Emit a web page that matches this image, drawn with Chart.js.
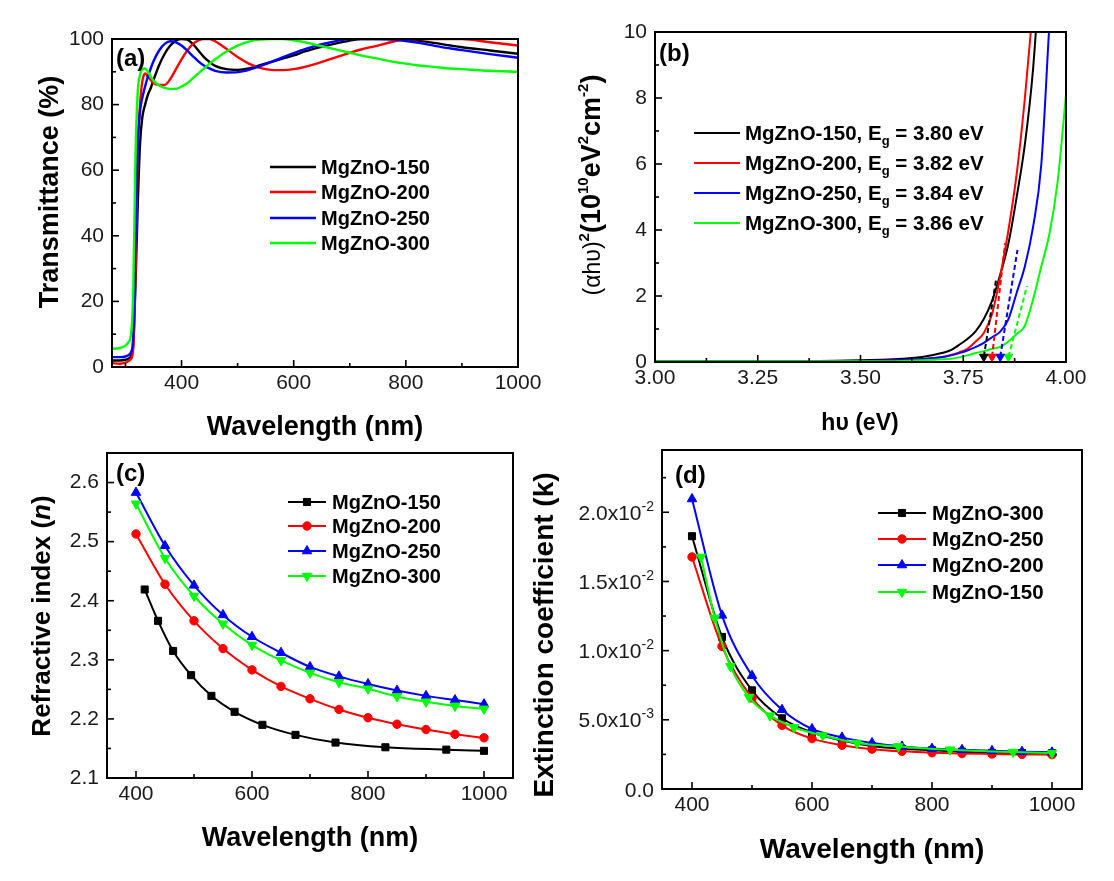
<!DOCTYPE html>
<html><head>
<meta charset="UTF-8">
<title>MgZnO optical properties</title>
<script src="https://cdn.jsdelivr.net/npm/chart.js"></script>
<style>
  body { margin: 0; background: #fff; }
  #fig { position: relative; width: 1114px; height: 881px; }
  #fig canvas { position: absolute; left: 0; top: 0; }
</style>
</head>
<body>
<div id="fig">
  <canvas id="chartA" width="1114" height="881"></canvas>
  <canvas id="chartB" width="1114" height="881"></canvas>
  <canvas id="chartC" width="1114" height="881"></canvas>
  <canvas id="chartD" width="1114" height="881"></canvas>
</div>
<script>
// ---------- (a) transmittance ----------
const waveA = [276, 290, 300, 305, 310, 314, 318, 322, 326, 330, 335, 340, 345, 350, 360, 370, 380, 390, 400, 410,
  420, 430, 440, 450, 460, 480, 500, 520, 540, 560, 580, 600, 620, 650, 680, 700, 720, 750, 780, 800,
  820, 850, 880, 900, 950, 1000];
const trans150 = [2, 2, 2.2, 2.5, 3.5, 7, 26, 50, 68, 76, 80, 83, 85, 87.5, 92, 95.5, 98, 99.5, 100, 99.8,
  98.5, 96.5, 94.5, 93, 91.8, 90.8, 90.6, 91, 92, 93, 94, 95, 96.2, 97.6, 98.8, 99.5, 100, 100, 100, 99.8,
  99.5, 98.8, 98, 97.5, 96.5, 95.5];
const trans200 = [1.2, 1, 1.3, 1.8, 2.5, 6, 30, 66, 80, 87, 89.5, 88.5, 87.5, 86.6, 86, 86, 87.8, 90.8, 93.8, 96.4,
  98.4, 99.6, 100, 100, 99.3, 97, 94.5, 92.5, 91.2, 90.6, 90.5, 90.8, 91.5, 93, 94.7, 95.8, 96.8, 98, 99.3, 99.8,
  100, 100, 100, 100, 99, 98];
const trans250 = [3, 3, 3.2, 3.6, 4.5, 10, 40, 68, 78, 82, 85.5, 88.5, 91, 93.2, 96.5, 98.5, 99.3, 99, 98, 96.5,
  94.8, 93.2, 91.9, 91, 90.3, 89.8, 89.9, 90.6, 91.7, 93, 94.4, 95.7, 96.9, 98.4, 99.5, 100, 100, 100, 99.8, 99.4,
  98.9, 98, 97.1, 96.6, 95.4, 94.3];
const trans300 = [5.5, 5.8, 6.5, 7.5, 10, 24, 65, 84, 89, 90.8, 91, 90, 88.5, 87.3, 85.8, 85.1, 84.8, 84.8, 85.5, 86.5,
  88, 89.5, 91, 92.5, 93.8, 96.2, 98, 99.2, 99.8, 100, 100, 99.6, 99, 97.8, 96.6, 95.8, 95, 94, 93, 92.5,
  92, 91.5, 91, 90.8, 90.3, 90];
const ticksAx = [400, 600, 800, 1000];
const ticksAy = [0, 20, 40, 60, 80, 100];

// ---------- (b) Tauc plot ----------
const energyB = [3.00, 3.10, 3.20, 3.30, 3.40, 3.50, 3.55, 3.60, 3.65, 3.70, 3.72, 3.74, 3.76, 3.78, 3.80,
  3.82, 3.84, 3.86, 3.88, 3.90, 3.92, 3.94, 3.96, 3.98, 4.00];
const tauc150 = [0.02, 0.02, 0.02, 0.03, 0.03, 0.05, 0.07, 0.1, 0.15, 0.28, 0.36, 0.52, 0.7, 0.93, 1.3,
  1.85, 2.65, 3.6, 5.0, 6.6, 8.9, 12.5, 16, 20, 25];
const tauc200 = [0.02, 0.02, 0.02, 0.02, 0.03, 0.03, 0.04, 0.06, 0.09, 0.15, 0.21, 0.29, 0.4, 0.62, 0.88,
  1.45, 2.6, 4.0, 5.7, 8.0, 10.8, 14, 18, 22, 27];
const tauc250 = [0.02, 0.02, 0.02, 0.02, 0.02, 0.03, 0.04, 0.06, 0.09, 0.15, 0.2, 0.27, 0.35, 0.45, 0.58,
  0.75, 0.92, 1.3, 2.1, 2.9, 4.1, 6.0, 10.3, 14, 18];
const tauc300 = [0.02, 0.02, 0.02, 0.02, 0.02, 0.02, 0.02, 0.03, 0.05, 0.08, 0.1, 0.14, 0.2, 0.27, 0.33,
  0.4, 0.46, 0.62, 0.85, 1.1, 1.9, 2.9, 3.9, 5.5, 8.1];
const bandGaps = [3.80, 3.82, 3.84, 3.86];
const fitTopX = [3.83, 3.852, 3.882, 3.905];
const fitTopY = [2.5, 3.6, 3.4, 2.3];
const ticksBx = [3.00, 3.25, 3.50, 3.75, 4.00];
const ticksBy = [0, 2, 4, 6, 8, 10];

// ---------- (c) refractive index, (d) extinction coefficient ----------
const wave150 = [415, 438, 464, 495, 530, 570, 618, 675, 744, 830, 935, 1000];
const waveStd = [400, 450, 500, 550, 600, 650, 700, 750, 800, 850, 900, 950, 1000];
const n150 = [2.419, 2.366, 2.315, 2.274, 2.239, 2.212, 2.190, 2.173, 2.160, 2.152, 2.148, 2.146];
const n200 = [2.513, 2.428, 2.366, 2.319, 2.283, 2.255, 2.234, 2.216, 2.202, 2.191, 2.182, 2.174, 2.168];
const n250 = [2.583, 2.493, 2.426, 2.376, 2.339, 2.312, 2.288, 2.272, 2.259, 2.248, 2.239, 2.232, 2.225];
const n300 = [2.564, 2.472, 2.408, 2.361, 2.325, 2.299, 2.278, 2.262, 2.251, 2.238, 2.229, 2.222, 2.217];
const k300 = [0.01827, 0.01099, 0.00713, 0.00511, 0.0041, 0.0035, 0.0031, 0.0029, 0.0028, 0.0027, 0.0026, 0.0026, 0.0026];
const k250 = [0.01677, 0.01031, 0.00658, 0.0046, 0.00364, 0.00316, 0.00288, 0.00272, 0.00262, 0.00256, 0.00253, 0.0025, 0.00248];
const k200 = [0.02096, 0.01255, 0.00819, 0.00573, 0.00434, 0.00373, 0.00333, 0.00308, 0.00292, 0.00283, 0.00276, 0.0027, 0.00265];
const k150 = [0.01677, 0.01236, 0.00887, 0.00663, 0.0053, 0.00446, 0.00386, 0.00333, 0.00308, 0.00284, 0.00267, 0.0026];
const ticksCx = [400, 600, 800, 1000];
const ticksCy = [2.1, 2.2, 2.3, 2.4, 2.5, 2.6];
const ticksDy = [0, 0.005, 0.01, 0.015, 0.02];
const ticksDyMant = ['0.0', '5.0', '1.0', '1.5', '2.0'];
const ticksDyExp = ['', '-3', '-2', '-2', '-2'];

const seriesNames = ['MgZnO-150', 'MgZnO-200', 'MgZnO-250', 'MgZnO-300'];
const colors = ['#000000', '#ff0000', '#0000ff', '#00ff00'];

// ---------- helpers ----------
const W = 1114, H = 881;
const YW = 90, XH = 40;   // room kept for tick labels
const FF = "'Liberation Sans', Arial, Helvetica, sans-serif";
const B = n => `bold ${n}px ${FF}`;
const BI = n => `italic bold ${n}px ${FF}`;
const R = n => `${n}px ${FF}`;

const pts = (xs, ys) => xs.map((x, i) => ({ x, y: ys[i] }));

function richWidth(ctx, segs) {
  let w = 0;
  segs.forEach(s => { ctx.font = s.f; w += ctx.measureText(s.t).width; });
  return w;
}

function drawRich(ctx, segs, x, y, align) {
  let cx = x;
  if (align === 'center') cx = x - richWidth(ctx, segs) / 2;
  if (align === 'right') cx = x - richWidth(ctx, segs);
  ctx.textAlign = 'left';
  ctx.textBaseline = 'alphabetic';
  segs.forEach(s => {
    ctx.font = s.f;
    ctx.fillText(s.t, cx, y + (s.dy || 0));
    cx += ctx.measureText(s.t).width;
  });
}

function minorsOf(vals, min, max) {
  const out = [];
  if (vals.length < 2) return out;
  const st = vals[1] - vals[0];
  for (let v = vals[0] - st / 2; v <= max + 1e-9; v += st) {
    if (v >= min - 1e-9) out.push(v);
  }
  return out;
}

// box frame with inward ticks (Origin style)
function drawFrame(chart) {
  const ctx = chart.ctx, a = chart.chartArea;
  const xs = chart.scales.x, ys = chart.scales.y;
  ctx.strokeStyle = '#000';
  ctx.setLineDash([]);
  ctx.lineWidth = 1.6;
  const tick = (x1, y1, x2, y2) => { ctx.beginPath(); ctx.moveTo(x1, y1); ctx.lineTo(x2, y2); ctx.stroke(); };
  const xv = xs.ticks.map(t => t.value), yv = ys.ticks.map(t => t.value);
  xv.forEach(v => { const p = xs.getPixelForValue(v); tick(p, a.bottom, p, a.bottom - 7); });
  minorsOf(xv, xs.min, xs.max).forEach(v => { const p = xs.getPixelForValue(v); tick(p, a.bottom, p, a.bottom - 4); });
  yv.forEach(v => { const p = ys.getPixelForValue(v); tick(a.left, p, a.left + 7, p); });
  minorsOf(yv, ys.min, ys.max).forEach(v => { const p = ys.getPixelForValue(v); tick(a.left, p, a.left + 4, p); });
  ctx.lineWidth = 2;
  ctx.strokeRect(a.left, a.top, a.right - a.left, a.bottom - a.top);
}

function drawText(ctx, t) {
  const size = t.size;
  ctx.fillStyle = '#000';
  if (t.rot) {
    ctx.save();
    ctx.translate(t.x, t.y);
    ctx.rotate(-Math.PI / 2);
    drawRich(ctx, t.segs, 0, 0.36 * size, 'center');
    ctx.restore();
  } else {
    drawRich(ctx, t.segs, t.x, t.y + 0.36 * size, t.align || 'center');
  }
}

function drawLegend(chart, L) {
  const ctx = chart.ctx;
  chart.data.datasets.filter(ds => !ds.noLegend).forEach((ds, i) => {
    const y = L.ys[i];
    ctx.setLineDash([]);
    ctx.strokeStyle = ds.borderColor;
    ctx.lineWidth = ds.borderWidth;
    ctx.beginPath(); ctx.moveTo(L.x0, y); ctx.lineTo(L.x1, y); ctx.stroke();
    if (L.marker) {
      ctx.fillStyle = ds.borderColor;
      ctx.lineWidth = 1;
      Chart.helpers.drawPoint(ctx, { pointStyle: ds.pointStyle, radius: ds.pointRadius,
        rotation: ds.pointRotation || 0, borderWidth: 1 }, (L.x0 + L.x1) / 2, y);
    }
    ctx.fillStyle = '#000';
    drawRich(ctx, ds.legendSegs || [{ t: ds.label, f: B(L.size) }], L.tx, y + 0.36 * L.size, 'left');
  });
}

function decoPlugin(d) {
  return {
    id: 'deco',
    afterDraw(chart) {
      const ctx = chart.ctx;
      ctx.save();
      drawFrame(chart);
      if (d.yLabels) d.yLabels(chart);
      d.texts.forEach(t => drawText(ctx, t));
      drawLegend(chart, d.legend);
      ctx.restore();
    }
  };
}

function axis(min, max, tickVals, fmt, isX, showLabels) {
  return {
    type: 'linear', min, max,
    afterBuildTicks: s => { s.ticks = tickVals.map(v => ({ value: v })); },
    afterFit: s => { if (isX) s.height = XH; else s.width = YW; },
    grid: { display: false, drawTicks: false },
    border: { display: false },
    ticks: {
      display: showLabels !== false,
      callback: fmt,
      color: '#1a1a1a',
      font: { family: FF, size: 21 },
      padding: isX ? 4 : 8,
      maxRotation: 0,
      autoSkip: false
    }
  };
}

function makeChart(id, area, datasets, xAxis, yAxis, deco) {
  return new Chart(document.getElementById(id), {
    type: 'line',
    data: { datasets },
    options: {
      responsive: false,
      animation: false,
      events: [],
      layout: { padding: { left: area[0] - YW, top: area[1], right: W - area[2], bottom: H - area[3] - XH } },
      plugins: { legend: { display: false }, tooltip: { enabled: false } },
      scales: { x: xAxis, y: yAxis }
    },
    plugins: [decoPlugin(deco)]
  });
}

function lineSet(label, color, xs, ys, width, order) {
  return {
    label, data: pts(xs, ys),
    borderColor: color, backgroundColor: color,
    borderWidth: width, pointRadius: 0, fill: false,
    cubicInterpolationMode: 'monotone', order
  };
}

const markerStyles = [
  { pointStyle: 'rect', pointRadius: 5, pointRotation: 0 },
  { pointStyle: 'circle', pointRadius: 4.2, pointRotation: 0 },
  { pointStyle: 'triangle', pointRadius: 5.5, pointRotation: 0 },
  { pointStyle: 'triangle', pointRadius: 5.5, pointRotation: 180 }
];

function markerSet(label, color, xs, ys, style, order) {
  return Object.assign({
    label, data: pts(xs, ys),
    borderColor: color, backgroundColor: color,
    pointBackgroundColor: color, pointBorderColor: color, pointBorderWidth: 1,
    borderWidth: 2, fill: false, cubicInterpolationMode: 'monotone', order
  }, style);
}

// ---------- panel (a) ----------
const transSets = [trans150, trans200, trans250, trans300];
makeChart('chartA', [112, 39, 518, 367],
  transSets.map((ys, i) => lineSet(seriesNames[i], colors[i], waveA, ys, 2.4, 3 - i)),
  axis(276, 1000, ticksAx, v => String(v), true),
  axis(0, 100, ticksAy, v => String(v), false),
  {
    texts: [
      { segs: [{ t: '(a)', f: B(24) }], x: 116, y: 57, size: 24, align: 'left' },
      { segs: [{ t: 'Transmittance (%)', f: B(27) }], x: 48, y: 192, size: 27, rot: true },
      { segs: [{ t: 'Wavelength (nm)', f: B(27) }], x: 315, y: 425, size: 27 }
    ],
    legend: { x0: 270, x1: 316, tx: 321, ys: [167, 192, 218, 243], size: 20 }
  });

// ---------- panel (b) ----------
const taucSets = [tauc150, tauc200, tauc250, tauc300];
const taucLines = taucSets.map((ys, i) => {
  const ds = lineSet(seriesNames[i], colors[i], energyB, ys, 2, 3 - i);
  ds.legendSegs = [
    { t: seriesNames[i] + ', E', f: B(20.5) },
    { t: 'g', f: B(13), dy: 5 },
    { t: ' = ' + bandGaps[i].toFixed(2) + ' eV', f: B(20.5) }
  ];
  return ds;
});
const fitLines = bandGaps.map((eg, i) => ({
  label: 'fit ' + seriesNames[i], noLegend: true, order: -1,
  data: [{ x: eg, y: 0.16 }, { x: fitTopX[i], y: fitTopY[i] }],
  borderColor: colors[i], backgroundColor: colors[i], borderWidth: 2, borderDash: [5, 3],
  pointStyle: 'triangle', pointRotation: 180, pointRadius: [5, 0],
  pointBackgroundColor: colors[i], pointBorderColor: colors[i], pointBorderWidth: 1, fill: false
}));
makeChart('chartB', [655, 32, 1066, 362],
  taucLines.concat(fitLines),
  axis(3, 4, ticksBx, v => v.toFixed(2), true),
  axis(0, 10, ticksBy, v => String(v), false),
  {
    texts: [
      { segs: [{ t: '(b)', f: B(24) }], x: 659, y: 52, size: 24, align: 'left' },
      { segs: [
          { t: '(\u03b1h\u03c5)', f: R(23) },
          { t: '2', f: B(15), dy: -11 },
          { t: '(10', f: B(27) },
          { t: '10', f: B(15), dy: -12 },
          { t: 'eV', f: B(27) },
          { t: '2', f: B(15), dy: -12 },
          { t: 'cm', f: B(27) },
          { t: '-2', f: B(15), dy: -12 },
          { t: ')', f: B(27) }
        ], x: 590, y: 185, size: 27, rot: true },
      { segs: [{ t: 'h\u03c5 (eV)', f: B(23) }], x: 860, y: 422, size: 23 }
    ],
    legend: { x0: 694, x1: 740, tx: 745, ys: [133, 163, 193, 223], size: 20.5 }
  });

// ---------- panel (c) ----------
const nXs = [wave150, waveStd, waveStd, waveStd];
const nSets = [n150, n200, n250, n300];
makeChart('chartC', [107, 453, 513, 778],
  nSets.map((ys, i) => markerSet(seriesNames[i], colors[i], nXs[i], ys, markerStyles[i], 3 - i)),
  axis(350, 1050, ticksCx, v => String(v), true),
  axis(2.1, 2.65, ticksCy, v => v.toFixed(1), false),
  {
    texts: [
      { segs: [{ t: '(c)', f: B(24) }], x: 116, y: 472, size: 24, align: 'left' },
      { segs: [{ t: 'Refractive index (', f: B(26) }, { t: 'n', f: BI(26) }, { t: ')', f: B(26) }],
        x: 41, y: 616, size: 26, rot: true },
      { segs: [{ t: 'Wavelength (nm)', f: B(27) }], x: 310, y: 836, size: 27 }
    ],
    legend: { x0: 288, x1: 326, tx: 332, ys: [502, 526, 551, 576], marker: true, size: 20 }
  });

// ---------- panel (d) ----------
const kNames = ['MgZnO-300', 'MgZnO-250', 'MgZnO-200', 'MgZnO-150'];
const kXs = [waveStd, waveStd, waveStd, wave150];
const kSets = [k300, k250, k200, k150];
makeChart('chartD', [662, 450, 1082, 789],
  kSets.map((ys, i) => markerSet(kNames[i], colors[i], kXs[i], ys, markerStyles[i], 3 - i)),
  axis(350, 1050, ticksCx, v => String(v), true),
  axis(0, 0.0245, ticksDy, v => String(v), false, false),
  {
    texts: [
      { segs: [{ t: '(d)', f: B(24) }], x: 675, y: 474, size: 24, align: 'left' },
      { segs: [{ t: 'Extinction coefficient (k)', f: B(28) }], x: 543, y: 635, size: 28, rot: true },
      { segs: [{ t: 'Wavelength (nm)', f: B(28) }], x: 872, y: 848, size: 28 }
    ],
    legend: { x0: 878, x1: 926, tx: 932, ys: [513, 539, 565, 592], marker: true, size: 20.5 },
    yLabels: chart => {
      const s = chart.scales.y, ctx = chart.ctx, a = chart.chartArea;
      ctx.fillStyle = '#1a1a1a';
      ticksDy.forEach((v, i) => {
        const segs = [{ t: ticksDyMant[i] + (ticksDyExp[i] ? 'x10' : ''), f: R(21) }];
        if (ticksDyExp[i]) segs.push({ t: ticksDyExp[i], f: R(14), dy: -9 });
        drawRich(ctx, segs, a.left - 8, s.getPixelForValue(v) + 7.5, 'right');
      });
    }
  });
</script>
</body></html>
